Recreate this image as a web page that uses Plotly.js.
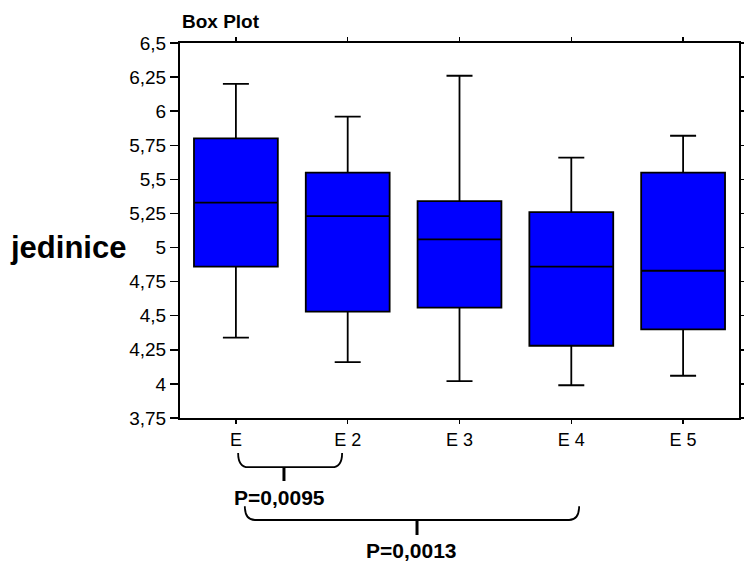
<!DOCTYPE html>
<html>
<head>
<meta charset="utf-8">
<script src="https://cdn.plot.ly/plotly-3.0.1.min.js"></script>
<style>html,body{margin:0;padding:0;background:#fff;}#chart{width:744px;height:563px;}</style>
</head>
<body>
<div id="chart"></div>
<script>
var categories = ['E', 'E 2', 'E 3', 'E 4', 'E 5'];
var lowerWhisker = [4.34, 4.16, 4.02, 3.99, 4.06];
var q1Values = [4.86, 4.53, 4.56, 4.28, 4.40];
var medianValues = [5.33, 5.23, 5.06, 4.86, 4.83];
var q3Values = [5.80, 5.55, 5.34, 5.26, 5.55];
var upperWhisker = [6.20, 5.96, 6.26, 5.66, 5.82];
var yTickVals = [3.75, 4, 4.25, 4.5, 4.75, 5, 5.25, 5.5, 5.75, 6, 6.25, 6.5];
var yTickText = ['3,75', '4', '4,25', '4,5', '4,75', '5', '5,25', '5,5', '5,75', '6', '6,25', '6,5'];
var comparisons = [
  {from: 0, to: 1, label: 'P=0,0095'},
  {from: 0, to: 3, label: 'P=0,0013'}
];

var FONT = 'Liberation Sans, Arial, sans-serif';

var trace = {
  type: 'box',
  x: categories,
  q1: q1Values,
  median: medianValues,
  q3: q3Values,
  lowerfence: lowerWhisker,
  upperfence: upperWhisker,
  fillcolor: 'rgb(0,0,255)',
  line: {color: '#000', width: 1.8},
  width: 0.75,
  whiskerwidth: 0.31,
  boxpoints: false,
  showlegend: false,
  hoverinfo: 'skip'
};

// bracket geometry (styling, in axis-index / paper units)
var bracketGeom = [
  {x0off: 0.02, x1off: -0.05, yTop: -0.093, yH: -0.131, stemX: 0.43, yStem: -0.168, labelX: 0.39, labelY: -0.211},
  {x0off: 0.08, x1off: 0.07, yTop: -0.235, yH: -0.272, stemX: 1.62, yStem: -0.312, labelX: 1.575, labelY: -0.352}
];

var shapes = [];
var annotations = [];
comparisons.forEach(function (c, i) {
  var g = bracketGeom[i];
  var xa = c.from + g.x0off, xb = c.to + g.x1off, d = 0.09;
  var yc = g.yH;
  shapes.push({
    type: 'path', xref: 'x', yref: 'paper',
    path: 'M ' + xa + ',' + g.yTop + ' Q ' + xa + ',' + yc + ' ' + (xa + d) + ',' + yc +
          ' L ' + (xb - d) + ',' + yc + ' Q ' + xb + ',' + yc + ' ' + xb + ',' + g.yTop,
    line: {color: '#000', width: 1.8}
  });
  shapes.push({
    type: 'line', xref: 'x', yref: 'paper',
    x0: g.stemX, x1: g.stemX, y0: yc, y1: g.yStem,
    line: {color: '#000', width: 3}
  });
  annotations.push({
    xref: 'x', yref: 'paper', x: g.labelX, y: g.labelY,
    text: '<b>' + c.label + '</b>', showarrow: false,
    xanchor: 'center', yanchor: 'middle',
    font: {family: FONT, size: 21, color: '#000'}
  });
});

annotations.push({
  xref: 'paper', yref: 'paper', x: -0.307, y: 0.456,
  text: '<b>jedinice</b>', showarrow: false,
  xanchor: 'left', yanchor: 'middle',
  font: {family: FONT, size: 31, color: '#000'}
});

var layout = {
  width: 744, height: 563,
  margin: {l: 180, r: 5, t: 43, b: 145},
  paper_bgcolor: '#fff', plot_bgcolor: '#fff',
  font: {family: FONT, color: '#000'},
  title: {
    text: '<b>Box Plot</b>', xref: 'container', yref: 'container',
    x: 182 / 744, xanchor: 'left', y: 1 - 21 / 563, yanchor: 'middle',
    font: {family: FONT, size: 19, color: '#000'}
  },
  xaxis: {
    type: 'category',
    range: [-0.5, 4.5],
    showline: true, linecolor: '#000', linewidth: 2, mirror: 'ticks',
    ticks: 'outside', ticklen: 4, tickwidth: 1.2, tickcolor: '#000',
    showgrid: false, zeroline: false,
    tickfont: {family: FONT, size: 18, color: '#000'}
  },
  yaxis: {
    range: [3.75, 6.5],
    tickmode: 'array', tickvals: yTickVals, ticktext: yTickText,
    showline: true, linecolor: '#000', linewidth: 2, mirror: 'ticks',
    ticks: 'outside', ticklen: 8, tickwidth: 1.5, tickcolor: '#000',
    showgrid: false, zeroline: false,
    tickfont: {family: FONT, size: 19, color: '#000'}
  },
  shapes: shapes,
  annotations: annotations
};

Plotly.newPlot('chart', [trace], layout, {displayModeBar: false, staticPlot: true});
</script>
</body>
</html>
